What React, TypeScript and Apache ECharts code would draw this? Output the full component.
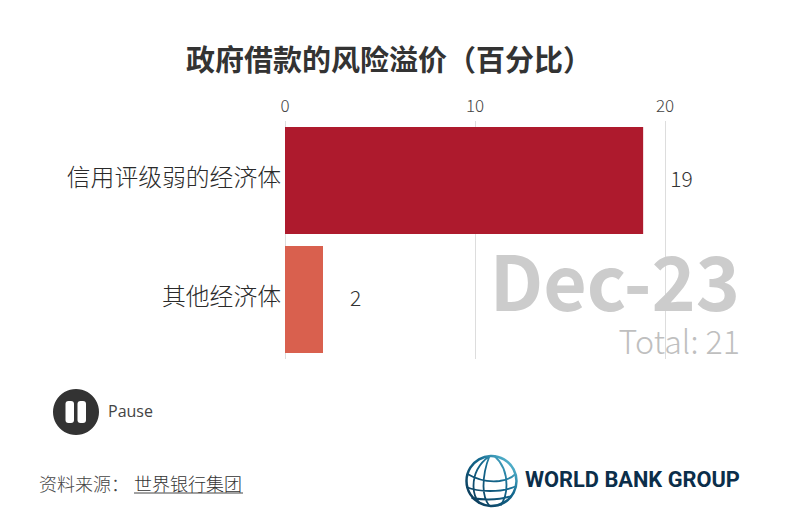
import React, { useEffect, useRef } from "react";
import * as echarts from "echarts";

const categories = ["信用评级弱的经济体", "其他经济体"];
const values = [18.85, 2];
const valueLabels = ["19", "2"];
const barColors = ["#AE1A2D", "#D9604E"];
const tickMax = 20;
const tickStep = 10;
const titleText = "政府借款的风险溢价（百分比）";
const dateText = "Dec-23";
const totalText = "Total: 21";
const pauseText = "Pause";
const sourceLabel = "资料来源：";
const sourceName = "世界银行集团";
const logoText = "WORLD BANK GROUP";

const CJK = '"Noto Sans CJK SC", "Noto Sans", sans-serif';

const globeD =
  "M-2 -25 C-13 -17 -18 -6 -18 5 C-18 12 -16 18 -12 22 " +
  "M3 -25 C11 -18 15 -8 15 4 C15 12 13 19 9 24.5 " +
  "M-2 -25 C-6 -15 -8 -5 -8 5 C-8 13 -6 20 -2 25 " +
  "M-24 -7 C-14 -1 -2 1 8 0 C15 -1 20 -3 24 -7 " +
  "M-25 6 C-14 11 10 12 25 5 " +
  "M-20 17 C-8 19 8 19 20 15";
echarts.graphic.registerShape("wbgGlobe", echarts.graphic.extendPath(globeD, {}) as any);

const logoGradient = () =>
  new echarts.graphic.LinearGradient(0, 1, 1, 0, [
    { offset: 0, color: "#0B3350" },
    { offset: 0.6, color: "#13698F" },
    { offset: 1, color: "#6FD3E8" },
  ]);

export default function App() {
  const ref = useRef<HTMLDivElement>(null);
  useEffect(() => {
    if (!ref.current) return;
    const chart = echarts.init(ref.current, undefined, { renderer: "svg" });
    chart.setOption({
      animation: false,
      backgroundColor: "#ffffff",
      textStyle: { fontFamily: CJK },
      grid: { left: 285, right: 121, top: 121, bottom: 163, containLabel: false },
      xAxis: {
        type: "value",
        position: "top",
        min: 0,
        max: tickMax,
        interval: tickStep,
        axisLine: { show: false },
        axisTick: { show: false },
        axisLabel: { color: "#444444", fontSize: 17, margin: 8, fontFamily: CJK, fontWeight: 300 },
        splitLine: { show: true, lineStyle: { color: "#DDDDDD", width: 1 } },
      },
      yAxis: {
        type: "category",
        inverse: true,
        data: categories,
        axisLine: { show: false },
        axisTick: { show: false },
        axisLabel: {
          color: "#2A2A2A",
          fontSize: 23.8,
          margin: 4,
          verticalAlign: "bottom",
          lineHeight: 10,
          fontFamily: CJK,
          fontWeight: 300,
        },
      },
      series: [
        {
          type: "bar",
          barWidth: 107,
          data: values.map((v, i) => ({ value: v, itemStyle: { color: barColors[i] } })),
          label: {
            show: true,
            position: "right",
            distance: 27,
            offset: [0, -3],
            color: "#333333",
            fontSize: 21,
            fontFamily: CJK,
            fontWeight: 300,
            formatter: (p: any) => valueLabels[p.dataIndex],
          },
          z: 3,
        },
      ],
      graphic: [
        { type: "text", x: 186, top: 43, style: { text: titleText, font: `700 29px ${CJK}`, fill: "#333333" } },
        { type: "text", right: 46, top: 241, z: 1, style: { text: dateText, font: `700 75px ${CJK}`, fill: "#CCCCCC" } },
        { type: "text", right: 46, top: 324, z: 1, style: { text: totalText, font: `300 32.2px ${CJK}`, fill: "#BFBFBF" } },
        { type: "circle", shape: { cx: 76, cy: 412, r: 23 }, style: { fill: "#333333" } },
        { type: "rect", shape: { x: 65.5, y: 401, width: 8.5, height: 22, r: 3 }, style: { fill: "#FFFFFF" } },
        { type: "rect", shape: { x: 77.5, y: 401, width: 8.5, height: 22, r: 3 }, style: { fill: "#FFFFFF" } },
        { type: "text", x: 108, y: 403, style: { text: pauseText, font: `400 16px "Open Sans", sans-serif`, fill: "#444444" } },
        { type: "text", x: 39, y: 474, style: { text: sourceLabel, font: `300 18px ${CJK}`, fill: "#444444" } },
        { type: "text", x: 134, y: 474, style: { text: sourceName, font: `300 18px ${CJK}`, fill: "#333333" } },
        { type: "line", shape: { x1: 134, y1: 493, x2: 243, y2: 493 }, style: { stroke: "#444444", lineWidth: 1 } },
        { type: "circle", shape: { cx: 491.5, cy: 481, r: 25 }, style: { fill: "none", stroke: logoGradient(), lineWidth: 2.5 } },
        { type: "wbgGlobe", x: 491.5, y: 481, style: { fill: "none", stroke: logoGradient(), lineWidth: 1.8 } },
        { type: "text", x: 525, y: 468, style: { text: logoText, font: `700 21.8px Roboto, sans-serif`, fill: "#0B2E4A" } },
      ],
    });
    return () => chart.dispose();
  }, []);
  return <div ref={ref} style={{ width: 786, height: 522, position: "absolute", left: 0, top: 0 }} />;
}
